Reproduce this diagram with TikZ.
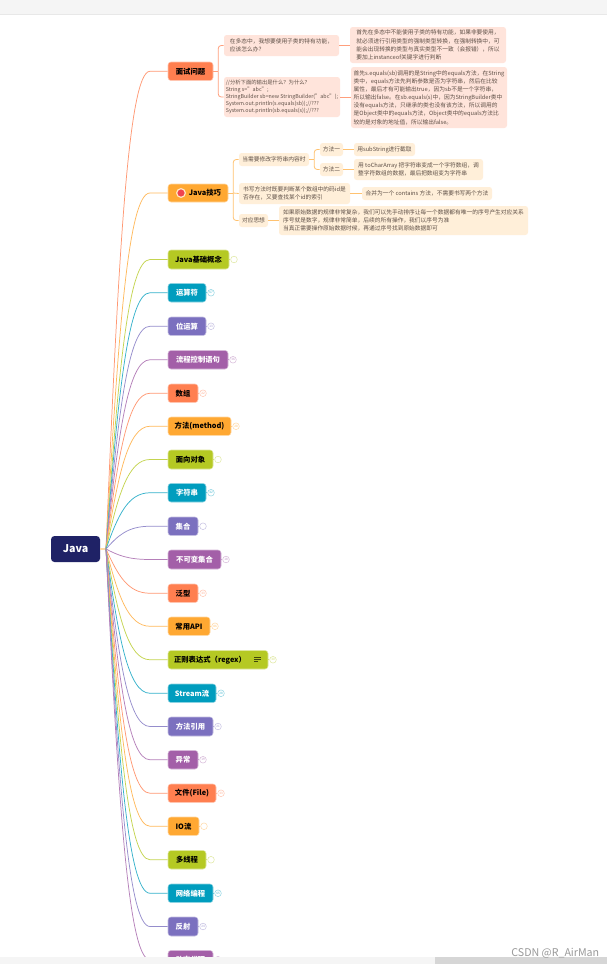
\documentclass[tikz,border=0pt]{standalone}
\usepackage{fontspec}
\setmainfont{Noto Sans CJK SC}
\definecolor{RootC}{HTML}{1F2266}
\definecolor{cA}{HTML}{FF7F50}
\definecolor{cB}{HTML}{FFA832}
\definecolor{cC}{HTML}{B5C923}
\definecolor{cD}{HTML}{009DBE}
\definecolor{cE}{HTML}{7B70BF}
\definecolor{cF}{HTML}{A35FA8}
\definecolor{subA}{HTML}{FFE4DB}
\definecolor{subB}{HTML}{FFEFD9}
\definecolor{subtxt}{HTML}{5F5047}
\definecolor{tipred}{HTML}{F0434F}
\tikzset{
  rootbox/.style={rounded corners=2.6pt,inner sep=0pt,fill=RootC,text=white,font=\fontsize{8}{9}\selectfont\bfseries},
  mainbox/.style={rounded corners=2.2pt,inner sep=0pt,font=\fontsize{5.5}{7}\selectfont\bfseries},
  sub/.style={rounded corners=2pt,inner sep=0pt,align=left,text=subtxt,font=\fontsize{4.3}{6.1}\selectfont},
  subred/.style={sub,fill=subA},
  suborg/.style={sub,fill=subB},
  code/.style={subred,font=\fontsize{4}{5.25}\selectfont},
  lnA/.style={draw=cA!75,line width=0.6pt},
  lnB/.style={draw=cB!70,line width=0.6pt},
  badge/.style={circle,minimum size=5pt,inner sep=0pt,line width=0.35pt,fill=white,font=\fontsize{2.3}{2.3}\selectfont},
  link/.style={line width=0.55pt},
}
% style, name, x1, y1, x2, y2, text
\newcommand{\bx}[7]{%
  \pgfmathsetmacro{\bw}{#5-(#3)}%
  \pgfmathsetmacro{\bh}{#6-(#4)}%
  \pgfmathsetmacro{\bcx}{(#3+#5)/2}%
  \pgfmathsetmacro{\bcy}{-(#4+#6)/2}%
  \node[#1,minimum width=\bw*0.75pt,minimum height=\bh*0.75pt] (#2) at (\bcx,\bcy) {#7};%
}
\begin{document}
\begin{tikzpicture}[x=0.75pt,y=0.75pt]
\useasboundingbox (0,0) rectangle (607,-964);
\fill[white] (0,0) rectangle (607,-964);
% root
\bx{rootbox}{root}{51}{536}{100}{562}{Java}
\coordinate (hub) at (106,-549);
\draw[cB!45,line width=1pt] (root.east) -- (hub);
% main branches
\foreach \nm/\xr/\ya/\yb/\col/\tc/\lab/\bt/\bn in {
 m1/213/62/80.5/cA/black/面试问题//0,
 m2/228/184/202/cB/black/\hspace{10.5pt}Java技巧//0,
 m3/229/250/269/cC/black/Java基础概念//1,
 m4/206/283.5/302/cD/white/运算符/67/1,
 m5/206/317/335.5/cE/white/位运算/13/1,
 m6/228/350.5/369/cF/white/流程控制语句/36/1,
 m7/198/384/402.5/cA/black/数组/22/1,
 m8/231/417/435.5/cB/black/方法(method)/28/1,
 m9/213/450/469/cC/black/面向对象//1,
 m10/206/483.5/502/cD/white/字符串/42/1,
 m11/198/517/535.5/cE/white/集合//1,
 m12/221/550/569/cF/white/不可变集合/18/1,
 m13/198/584/602.5/cA/black/泛型/33/1,
 m14/210/617/635.5/cB/black/常用API/86/1,
 m15/268/650.5/669/cC/black/正则表达式（regex）\rule{12pt}{0pt}/30/1,
 m16/216/684/702.5/cD/white/Stream流/28/1,
 m17/213/717/736/cE/white/方法引用/21/1,
 m18/198/750.5/769/cF/white/异常/19/1,
 m19/216/784/802.5/cA/black/文件(File)/33/1,
 m20/199/817/835.5/cB/black/IO流//1,
 m21/206/850.5/869/cC/black/多线程//1,
 m22/213/884/902.5/cD/white/网络编程/65/1,
 m23/198/917/936/cE/white/反射/24/1,
 m24/213/950.5/969/cF/white/动态代理//1}
{
  \bx{mainbox,fill=\col,draw=\col!45,line width=0.4pt,text=\tc}{\nm}{168}{\ya}{\xr}{\yb}{\lab}
  \pgfmathsetmacro{\ymid}{(\ya+\yb)/2}
  \pgfmathsetmacro{\cyy}{549+0.6*(\ymid-549)}
  \draw[\col!80,link] (hub) .. controls (118,-\cyy) and (128,-\ymid) .. (150,-\ymid) -- (\nm.west);
  \ifnum\bn=1
    \pgfmathsetmacro{\bxx}{\xr+5}
    \node[badge,draw=\col!45,text=\col!70] (b\nm) at (\bxx,-\ymid) {\bt};
    \draw[\col!60,line width=0.4pt] (\nm.east) -- (b\nm.west);
  \fi
}
% icon on Java tips
\node[circle,minimum size=6.5pt,inner sep=0pt,fill=tipred,draw=cB!30,line width=0.9pt] (tipicon) at (181,-193) {};
% note icon on regex
\coordinate (noteA) at (254,-657.5);
\draw[black!65!cC,line width=0.55pt] (noteA) -- ++(6.5,0) ++(-6.5,-2) -- ++(6.5,0) ++(-6.5,-2) -- ++(4,0);

% interview branch
\bx{subred}{a}{224}{35}{339}{56}{在多态中，我想要使用子类的特有功能，\\应该怎么办？}
\bx{subred}{aa}{350}{27}{506}{63}{首先在多态中不能使用子类的特有功能，如果非要使用，\\就必须进行引用类型的强制类型转换，在强制转换中，可\\能会出现转换的类型与真实类型不一致（会报错），所以\\要加上instanceof关键字进行判断}
\bx{code}{b}{224}{77}{340}{117}{//分析下面的输出是什么？为什么？\\String s="abc";\\StringBuilder sb=new StringBuilder("abc");\\System.out.println(s.equals(sb));//???\\System.out.println(sb.equals(s));//???}
\bx{subred}{bb}{351}{67}{507}{128}{首先s.equals(sb)调用的是String中的equals方法，在String\\类中，equals方法先判断参数是否为字符串，然后在比较\\属性，最后才有可能输出true，因为sb不是一个字符串，\\所以输出false。在sb.equals(s)中，因为StringBuilder类中\\没有equals方法，只继承的类也没有该方法，所以调用的\\是Object类中的equals方法，Object类中的equals方法比\\较的是对象的地址值，所以输出false。}
\draw[lnA] (m1.east) -- ++(5,0) coordinate (fa);
\draw[lnA,rounded corners=2.2pt] (fa) |- (a.west);
\draw[lnA,rounded corners=2.2pt] (fa) |- (b.west);
\draw[lnA] (a.east) -- (a.east-|aa.west);
\draw[lnA] (b.east) -- (b.east-|bb.west);

% tips branch
\bx{suborg}{c}{239}{153}{309}{166}{当需要修改字符串内容时}
\bx{suborg}{ca}{320}{143}{343}{156}{方法一}
\bx{suborg}{cb}{320}{163}{343}{176}{方法二}
\bx{suborg}{caa}{354}{143}{415}{156}{用subString进行截取}
\bx{suborg}{cbb}{354}{159}{483}{180}{用 toCharArray 把字符串变成一个字符数组，调\\整字符数组的数据，最后把数组变为字符串}
\bx{suborg}{d}{239}{183}{350}{204}{书写方法时既要判断某个数组中的码id是\\否存在，又要查找某个id的索引}
\bx{suborg}{dd}{362}{187}{492}{200}{合并为一个 contains 方法，不需要书写两个方法}
\bx{suborg}{e}{239}{214}{268}{227}{对应思想}
\bx{suborg}{ee}{279}{206}{528}{235}{如果原始数据的规律非常复杂，我们可以先手动排序让每一个数据都有唯一的序号产生对应关系\\序号就是数字，规律非常简单，后续的所有操作，我们以序号为准\\当真正需要操作原始数据时候，再通过序号找到原始数据即可}
\draw[lnB] (m2.east) -- ++(5,0) coordinate (fb);
\draw[lnB,rounded corners=2.2pt] (fb) |- (c.west);
\draw[lnB] (fb) -- (d.west);
\draw[lnB,rounded corners=2.2pt] (fb) |- (e.west);
\draw[lnB] (c.east) -- ++(5,0) coordinate (fc);
\draw[lnB,rounded corners=2.2pt] (fc) |- (ca.west);
\draw[lnB,rounded corners=2.2pt] (fc) |- (cb.west);
\draw[lnB] (ca.east) -- (caa.west);
\draw[lnB] (cb.east) -- (cbb.west);
\draw[lnB] (d.east) -- (dd.west);
\draw[lnB] (e.east) -- (e.east-|ee.west);

% window chrome
\fill[black!4] (0,0) rectangle (607,-14);
\draw[black!9,line width=0.5pt] (0,-14.3) -- (607,-14.3);
\fill[black!4] (0,-957) rectangle (435,-964);
\fill[black!16] (435,-957) rectangle (607,-964);
\node[text=black!40,inner sep=0pt,font=\fontsize{8}{9}\selectfont,anchor=east] (wm) at (599.5,-953) {CSDN @R\_AirMan};
\end{tikzpicture}
\end{document}
